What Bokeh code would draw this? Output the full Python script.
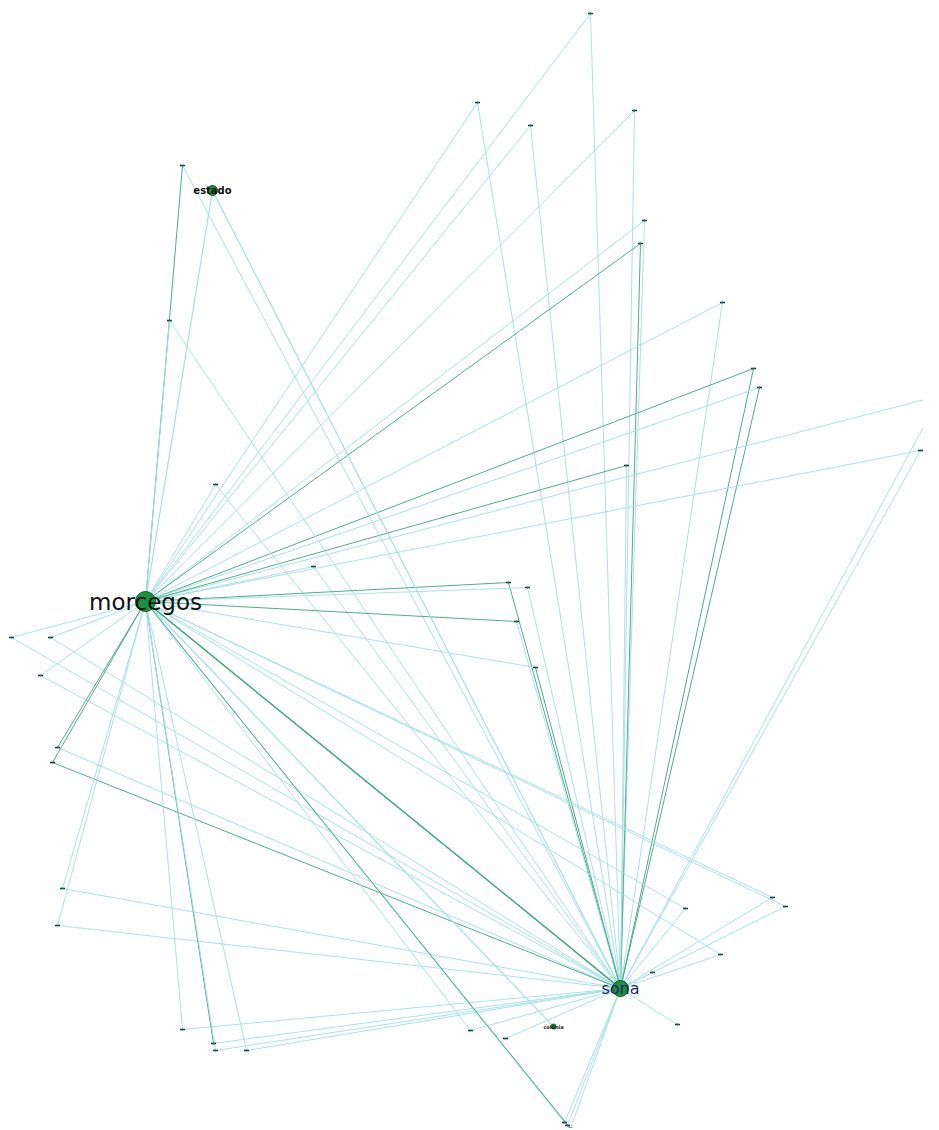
from bokeh.plotting import figure
from bokeh.models import Range1d, ColumnDataSource
from bokeh.embed import file_html
from bokeh.resources import INLINE
from bokeh.core.properties import value

# ---- data ----
hub_names = ["morcegos", "sona", "estado", "colônia"]
hub_x = [145, 620, 212, 553]
hub_y = [601, 988, 190, 1026]
hub_size = [20, 16, 10, 5]
hub_font = ["23px", "16px", "10px", "5px"]
hub_color = ["#111111", "#1a2a6e", "#111111", "#111111"]
hub_style = ["normal", "normal", "bold", "bold"]

node_x = [590, 477, 530, 634, 644, 640, 722, 753, 759, 940, 920, 626,
          182, 169, 215, 313, 508, 527, 516, 535, 11, 50, 40, 57, 52,
          62, 57, 182, 213, 215, 246, 470, 505, 567, 677, 685, 720, 772,
          785, 652, 564, 570]
node_y = [13, 102, 125, 110, 220, 243, 302, 368, 387, 395, 450, 465,
          165, 320, 484, 566, 582, 587, 621, 667, 637, 637, 675, 747, 762,
          888, 925, 1029, 1043, 1050, 1050, 1030, 1038, 1125, 1024, 908, 954, 897,
          906, 972, 1122, 1128]

edge_node = [0, 0, 1, 1, 2, 2, 3, 3, 4, 4, 5, 5, 6, 6, 7, 7, 8, 8, 9, 9,
             10, 10, 11, 11, 12, 12, 13, 13, 14, 14, 15, 15, 16, 16, 17, 17,
             18, 18, 19, 19, 20, 20, 21, 21, 22, 22, 23, 23, 24, 24, 25, 25,
             26, 26, 27, 27, 28, 28, 29, 29, 30, 30, 31, 31, 32, 33, 33, 34,
             35, 35, 36, 36, 37, 37, 38, 38, 39, 40, 40, 41, 41]
edge_hub = [0, 1, 0, 1, 0, 1, 0, 1, 0, 1, 0, 1, 0, 1, 0, 1, 0, 1, 0, 1,
            0, 1, 0, 1, 0, 1, 0, 1, 0, 1, 0, 1, 0, 1, 0, 1,
            0, 1, 0, 1, 0, 1, 0, 1, 0, 1, 0, 1, 0, 1, 0, 1,
            0, 1, 0, 1, 0, 1, 0, 1, 0, 1, 0, 1, 1, 0, 1, 1,
            0, 1, 0, 1, 0, 1, 0, 1, 1, 0, 1, 0, 1]
edge_w = [1, 1, 1, 1, 1, 1, 1, 1, 1, 1, 2, 2, 1, 1, 2, 2, 1, 2, 1, 1,
          1, 1, 2, 1, 2, 1, 1, 1, 1, 1, 1, 1, 2, 2, 1, 1,
          2, 1, 1, 2, 1, 1, 1, 1, 1, 1, 2, 1, 2, 2, 1, 1,
          1, 1, 1, 1, 2, 1, 1, 1, 1, 1, 1, 1, 1, 1, 1, 1,
          1, 1, 1, 1, 1, 1, 1, 1, 1, 1, 1, 2, 1]
hh_src = [0, 0, 2, 2, 3]
hh_dst = [1, 1, 0, 1, 0]
hh_w = [2, 2, 1, 1, 1]

W, H = 923, 1128
p = figure(width=W, height=H, output_backend="svg", toolbar_location=None,
           x_range=Range1d(0, W), y_range=Range1d(H, 0),
           min_border=0)
p.axis.visible = False
p.grid.visible = False
p.outline_line_color = None
p.background_fill_color = "white"

cyan = "#a3dfe6"
green = "#45a982"

x0 = [node_x[i] for i in edge_node]
y0 = [node_y[i] for i in edge_node]
x1 = [hub_x[j] for j in edge_hub]
y1 = [hub_y[j] for j in edge_hub]
cols = [green if w == 2 else cyan for w in edge_w]
src = ColumnDataSource(dict(x0=x0, y0=y0, x1=x1, y1=y1, c=cols))
p.segment("x0", "y0", "x1", "y1", source=src, line_color="c", line_width=1, line_alpha=0.95)

hx0 = [hub_x[i] for i in hh_src]
hy0 = [hub_y[i] for i in hh_src]
hx1 = [hub_x[j] for j in hh_dst]
hy1 = [hub_y[j] for j in hh_dst]
hcols = [green if w == 2 else cyan for w in hh_w]
hsrc = ColumnDataSource(dict(x0=hx0, y0=hy0, x1=hx1, y1=hy1, c=hcols))
p.segment("x0", "y0", "x1", "y1", source=hsrc, line_color="c", line_width=1.2)

p.scatter(node_x, node_y, marker="dash", size=5, line_color="#1c2a5a", line_width=1.5)
p.scatter(node_x, node_y, marker="circle", size=2, fill_color="#1a7a3a", line_color=None)

p.scatter(hub_x, hub_y, marker="circle", size=hub_size, fill_color="#1f8f3f",
          line_color="#0d5c22", line_width=1)

lsrc = ColumnDataSource(dict(x=hub_x, y=hub_y, t=hub_names, fs=hub_font, c=hub_color, st=hub_style))
p.text("x", "y", text="t", source=lsrc, text_font_size="fs", text_color="c",
       text_font_style="st", text_align="center", text_baseline="middle",
       text_font=value("DejaVu Sans"))

open("out.html", "w").write(file_html(p, INLINE))
